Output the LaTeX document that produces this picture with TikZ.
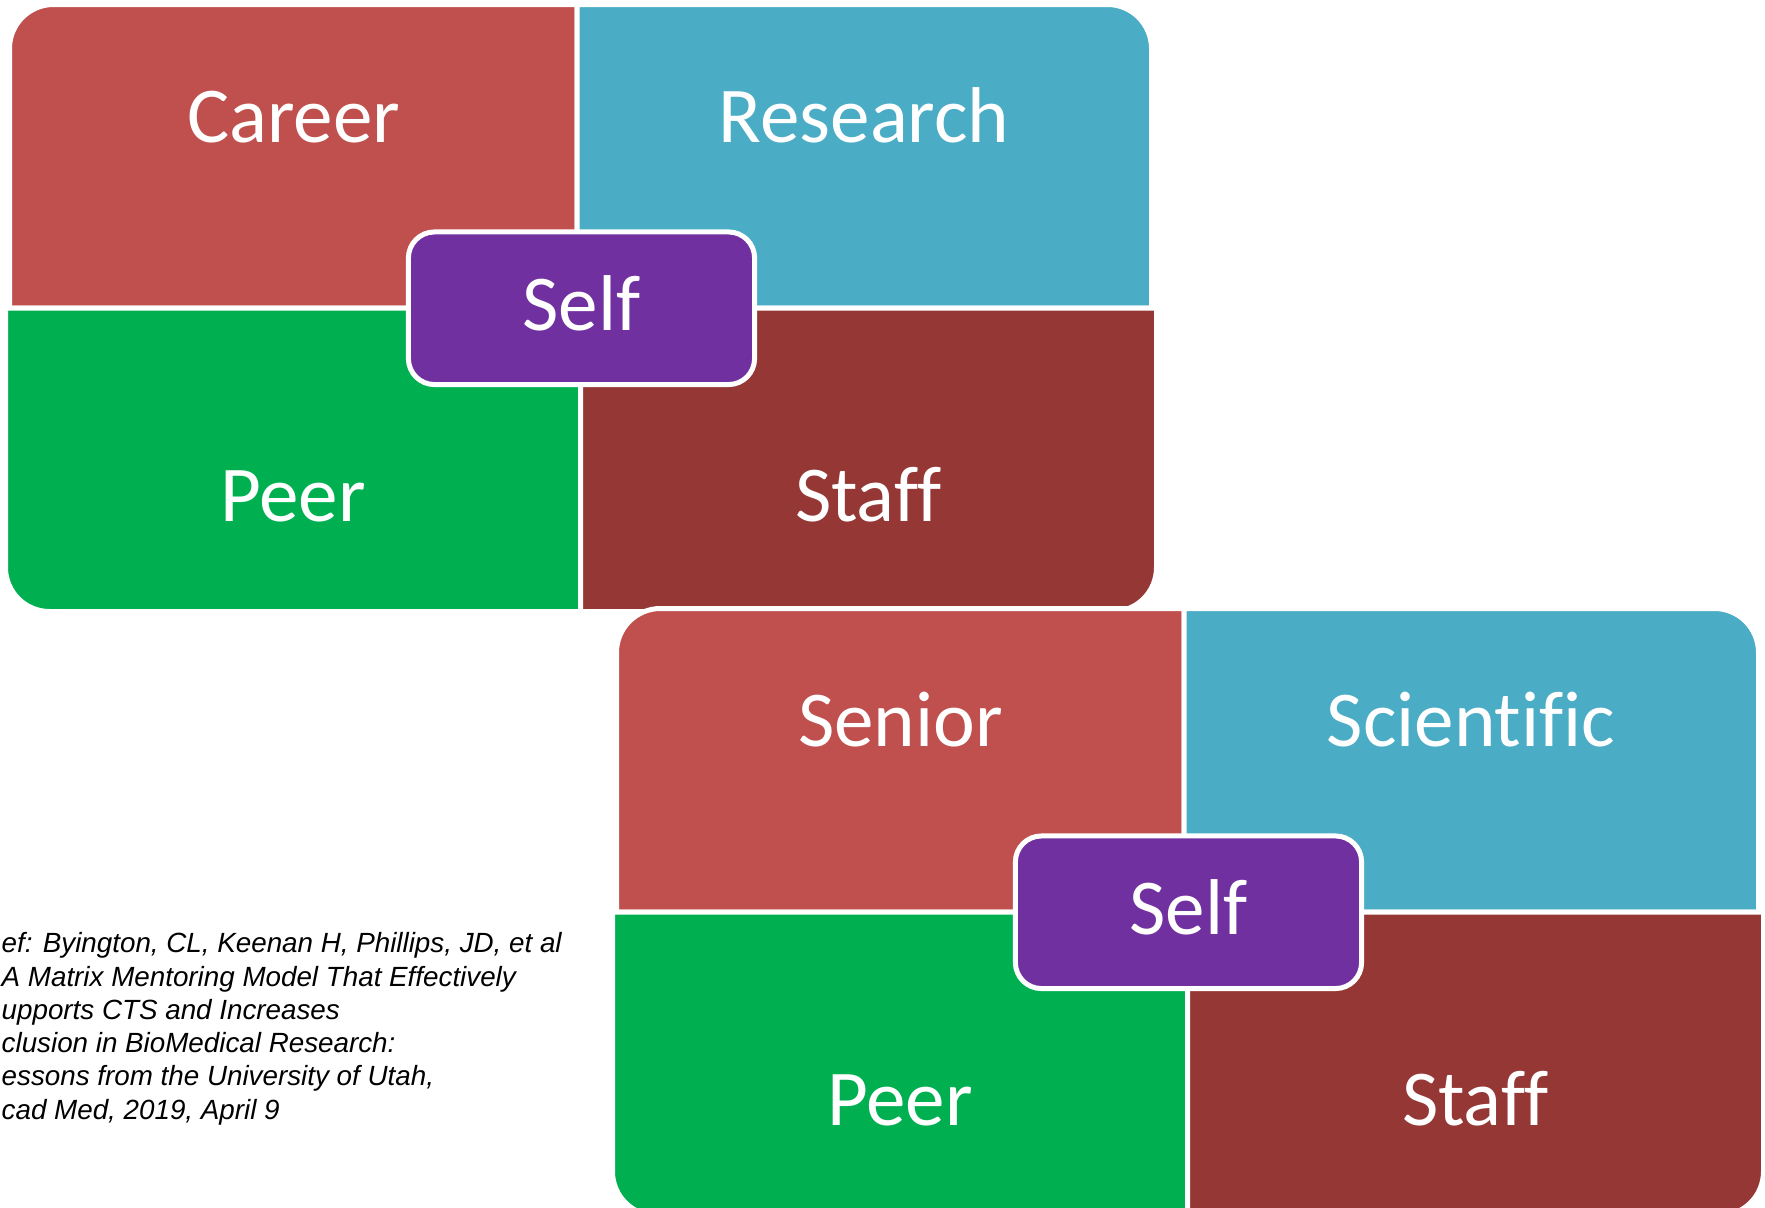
\documentclass[tikz,border=0pt]{standalone}
\usepackage{fontspec}
\setmainfont{Carlito}[Ligatures=CommonOff]
\newfontfamily\reffont{Liberation Sans}
\definecolor{careerred}{HTML}{C0504D}
\definecolor{researchblue}{HTML}{4BACC6}
\definecolor{peergreen}{HTML}{00B050}
\definecolor{staffred}{HTML}{953735}
\definecolor{selfpurple}{HTML}{7030A0}

\begin{document}
\begin{tikzpicture}[x=0.01cm, y=-0.01cm]
 \tikzstyle{quad}=[draw=white, line width=0.05cm]
 \tikzstyle{lab}=[anchor=base, text=white, inner sep=0pt, font=\fontsize{22.5}{27}\selectfont]
 \tikzstyle{selfbox}=[rectangle, rounded corners=0.26cm, draw=white, line width=0.05cm, fill=selfpurple, text=white, inner sep=0pt, minimum width=3.46cm, minimum height=1.525cm, text height=12.9pt, text depth=0pt, font=\fontsize{22.5}{27}\selectfont]
 \clip (0,0) rectangle (1765,1208);
 %
 % first matrix
 \fill[careerred, quad] (9.5,308) -- (9.5,48.5) arc[start angle=180, end angle=270, radius=44] -- (577,4.5) -- (577,308) -- cycle;
 \fill[researchblue, quad] (577,4.5) -- (1107.5,4.5) arc[start angle=270, end angle=360, radius=44] -- (1151.5,308) -- (577,308) -- cycle;
 \fill[peergreen, quad] (5.5,308) -- (580.5,308) -- (580.5,611.5) -- (49.5,611.5) arc[start angle=90, end angle=180, radius=44] -- cycle;
 \fill[staffred, quad] (580.5,308) -- (1156.5,308) -- (1156.5,567.5) arc[start angle=0, end angle=90, radius=44] -- (580.5,611.5) -- cycle;
 %
 \node[lab] (career) at (293.5,142) {Career};
 \node[lab] (research) at (864,142) {Research};
 \node[lab] (peer) at (293,521) {Peer};
 \node[lab] (staff) at (868.5,521) {Staff};
 \node[selfbox] (self) at (581.5,308.25) {Self};
 %
 % second matrix
 \begin{scope}[shift={(607,604)}]
 \fill[careerred, quad] (9.5,308) -- (9.5,48.5) arc[start angle=180, end angle=270, radius=44] -- (577,4.5) -- (577,308) -- cycle;
 \fill[researchblue, quad] (577,4.5) -- (1107.5,4.5) arc[start angle=270, end angle=360, radius=44] -- (1151.5,308) -- (577,308) -- cycle;
 \fill[peergreen, quad] (5.5,308) -- (580.5,308) -- (580.5,611.5) -- (49.5,611.5) arc[start angle=90, end angle=180, radius=44] -- cycle;
 \fill[staffred, quad] (580.5,308) -- (1156.5,308) -- (1156.5,567.5) arc[start angle=0, end angle=90, radius=44] -- (580.5,611.5) -- cycle;
 %
 \node[lab] (senior) at (293.5,142) {Senior};
 \node[lab] (scientific) at (864,142) {Scientific};
 \node[lab] (peer2) at (293,521) {Peer};
 \node[lab] (staff2) at (868.5,521) {Staff};
 \node[selfbox] (self2) at (581.5,308.25) {Self};
 \end{scope}
 %%
 \node[anchor=north west, inner sep=0pt, align=left, font=\reffont\itshape\fontsize{7.9}{9.45}\selectfont] (ref) at (1,932) {ef: Byington, CL, Keenan H, Phillips, JD, et al\\A Matrix Mentoring Model That Effectively\\upports CTS and Increases\\clusion in BioMedical Research:\\essons from the University of Utah,\\cad Med, 2019, April 9};
\end{tikzpicture}
\end{document}
